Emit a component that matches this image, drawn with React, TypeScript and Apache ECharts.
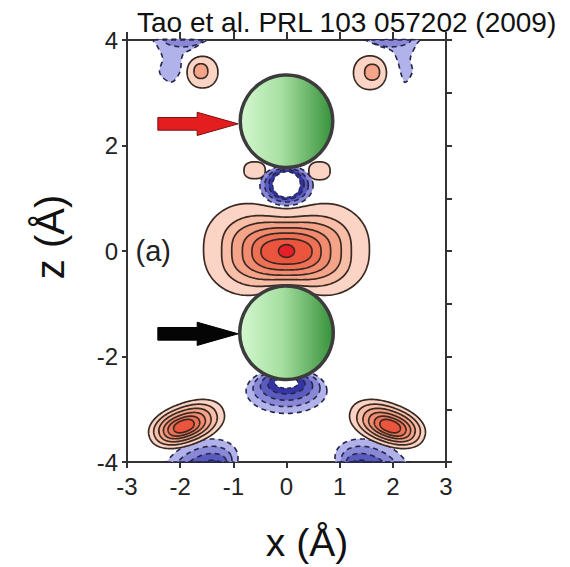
import React, { useEffect, useRef } from "react";
import * as echarts from "echarts";

// ---------- axes ----------
const xRange = [-3, 3];
const zRange = [-4, 4];
const titleText = "Tao et al. PRL 103 057202 (2009)";
const xTitle = "x (Å)";
const zTitle = "z (Å)";
const panelLabel = "(a)";

// ---------- contour rings ----------
// [xCenter, zCenter, halfWidth, halfHeight, tiltDeg, squareness, pinch, level]
// level > 0 : positive (red, solid), level < 0 : negative (blue, dashed), 0 : empty hole
const centralLobe = [
  [0, 0.03, 1.56, 1.02, 0, 2.4, 0.24, 1],
  [0, 0.0, 1.22, 0.73, 0, 2.8, 0.12, 2],
  [0, 0.0, 1.03, 0.57, 0, 2.8, 0.05, 3],
  [0, -0.01, 0.83, 0.45, 0, 2.7, 0, 4],
  [0, -0.01, 0.65, 0.35, 0, 2.5, 0, 5],
  [0, -0.01, 0.48, 0.24, 0, 2.3, 0, 6],
  [0, 0.0, 0.15, 0.12, 0, 2.0, 0, 7],
];
const upperSideLobes = [
  [-0.6, 1.53, 0.2, 0.16, 0, 2.4, 0, 1],
  [0.62, 1.52, 0.2, 0.17, 0, 2.4, 0, 1],
];
const topLobes = [
  [-1.58, 3.39, 0.29, 0.3, 0, 2.1, 0, 1],
  [-1.61, 3.41, 0.13, 0.14, 0, 2.2, 0, 3],
  [1.57, 3.38, 0.31, 0.32, 0, 2.1, 0, 1],
  [1.61, 3.39, 0.14, 0.15, 0, 2.2, 0, 3],
];
const bottomLobes = [
  [-1.88, -3.28, 0.74, 0.4, 20, 2.2, 0, 1],
  [-1.9, -3.29, 0.62, 0.33, 20, 2.2, 0, 2],
  [-1.91, -3.3, 0.51, 0.27, 20, 2.2, 0, 3],
  [-1.92, -3.31, 0.41, 0.21, 20, 2.2, 0, 4],
  [-1.93, -3.32, 0.31, 0.16, 20, 2.2, 0, 5],
  [-1.93, -3.32, 0.2, 0.11, 20, 2.2, 0, 6],
  [1.9, -3.28, 0.74, 0.4, -20, 2.2, 0, 1],
  [1.92, -3.29, 0.62, 0.33, -20, 2.2, 0, 2],
  [1.93, -3.3, 0.51, 0.27, -20, 2.2, 0, 3],
  [1.94, -3.31, 0.41, 0.21, -20, 2.2, 0, 4],
  [1.95, -3.32, 0.31, 0.16, -20, 2.2, 0, 5],
  [1.95, -3.32, 0.2, 0.11, -20, 2.2, 0, 6],
];
const upperRing = [
  [0, 1.24, 0.5, 0.38, 0, 2, 0, -2],
  [0, 1.25, 0.41, 0.32, 0, 2, 0, -3],
  [0, 1.26, 0.33, 0.28, 0, 2, 0, -4],
  [0, 1.26, 0.26, 0.24, 0, 2, 0, 0],
];
const lowerBowl = [
  [0, -2.65, 0.76, 0.43, 0, 2, 0, -1],
  [0, -2.6, 0.63, 0.35, 0, 2, 0, -2],
  [0, -2.56, 0.49, 0.27, 0, 2, 0, -3],
  [0, -2.53, 0.35, 0.18, 0, 2, 0, -4],
  [0, -2.5, 0.22, 0.1, 0, 2, 0, 0],
];
const bottomBlue = [
  [-1.62, -4.08, 0.74, 0.47, 22, 2, 0, -1],
  [-1.58, -4.1, 0.58, 0.36, 22, 2, 0, -2],
  [-1.54, -4.13, 0.44, 0.26, 22, 2, 0, -3],
  [-1.5, -4.16, 0.31, 0.17, 22, 2, 0, -4],
  [1.62, -4.08, 0.74, 0.47, -22, 2, 0, -1],
  [1.58, -4.1, 0.58, 0.36, -22, 2, 0, -2],
  [1.54, -4.13, 0.44, 0.26, -22, 2, 0, -3],
  [1.5, -4.16, 0.31, 0.17, -22, 2, 0, -4],
];
const topBlueCaps = [
  [-1.95, 4.03, 0.38, 0.16, 0, 2, 0, -2],
  [1.97, 4.03, 0.38, 0.16, 0, 2, 0, -2],
];
// negative "funnels" hanging from the top edge: outline points [x, z]
const topFunnelLeft = [
  [-2.5, 4.05], [-1.5, 4.05], [-1.56, 3.96], [-1.75, 3.84], [-1.95, 3.72], [-2.0, 3.41],
  [-2.1, 3.24], [-2.19, 3.2], [-2.35, 3.31], [-2.39, 3.42], [-2.33, 3.66], [-2.44, 3.9],
];
const topFunnelRight = [
  [1.48, 4.05], [2.5, 4.05], [2.46, 3.94], [2.33, 3.66], [2.37, 3.41], [2.28, 3.23],
  [2.22, 3.2], [2.16, 3.34], [2.09, 3.6], [1.99, 3.79], [1.76, 3.88], [1.5, 3.99],
];

// atoms: [x, z, radius]
const atoms = [
  [0, 2.46, 0.87],
  [0, -1.55, 0.88],
];
// arrows: [tailX, headBaseX, tipX, z, shaftHalf, headHalf]
const redArrow = [-2.42, -1.68, -0.91, 2.41, 0.12, 0.22];
const blackArrow = [-2.42, -1.68, -0.91, -1.57, 0.12, 0.22];
const labelPos = [-2.84, 0];

const positiveFills = ["#fbd4c5", "#f8bea8", "#f5a48a", "#f28b6f", "#ef7155", "#ec553d", "#e61e28"];
const negativeFills = ["#b2b2ea", "#8888d6", "#5b5bbe", "#3434a2"];

const FONT = '"Liberation Sans", Arial, Helvetica, sans-serif';

const clamp = (v: number, lo: number, hi: number) => Math.max(lo, Math.min(hi, v));

function ringPoints(row: number[]) {
  const [cx, cz, a, b, tilt, n, pinch] = row;
  const th = (tilt * Math.PI) / 180;
  const pts: number[][] = [];
  const N = 180;
  for (let i = 0; i < N; i++) {
    const t = (i / N) * Math.PI * 2;
    const c = Math.cos(t);
    const s = Math.sin(t);
    const u = Math.sign(c) * Math.pow(Math.abs(c), 2 / n);
    const v = Math.sign(s) * Math.pow(Math.abs(s), 2 / n);
    const x = a * u;
    const z = b * v * (1 - pinch * Math.exp(-Math.pow(u / 0.45, 2)));
    const X = cx + x * Math.cos(th) - z * Math.sin(th);
    const Z = cz + x * Math.sin(th) + z * Math.cos(th);
    pts.push([clamp(X, xRange[0], xRange[1]), clamp(Z, zRange[0], zRange[1])]);
  }
  return pts;
}

function levelStyle(level: number) {
  if (level > 0) {
    return { fill: positiveFills[level - 1], stroke: "#3a2a22", lineWidth: 1.7 };
  }
  if (level < 0) {
    return { fill: negativeFills[-level - 1], stroke: "#26264a", lineWidth: 1.6, lineDash: [5, 4] };
  }
  return { fill: "#ffffff", stroke: "#26264a", lineWidth: 1.4, lineDash: [4, 3] };
}

type Shape =
  | { kind: "ring"; row: number[] }
  | { kind: "poly"; pts: number[][]; level: number }
  | { kind: "atom"; row: number[] }
  | { kind: "arrow"; row: number[]; fill: string; stroke: string }
  | { kind: "label"; pos: number[]; text: string };

const shapes: Shape[] = [
  { kind: "poly", pts: topFunnelLeft, level: -1 },
  { kind: "poly", pts: topFunnelRight, level: -1 },
  ...topBlueCaps.map((row) => ({ kind: "ring", row } as Shape)),
  ...bottomBlue.map((row) => ({ kind: "ring", row } as Shape)),
  ...topLobes.map((row) => ({ kind: "ring", row } as Shape)),
  ...bottomLobes.map((row) => ({ kind: "ring", row } as Shape)),
  ...centralLobe.map((row) => ({ kind: "ring", row } as Shape)),
  ...upperSideLobes.map((row) => ({ kind: "ring", row } as Shape)),
  ...upperRing.map((row) => ({ kind: "ring", row } as Shape)),
  ...lowerBowl.map((row) => ({ kind: "ring", row } as Shape)),
  ...atoms.map((row) => ({ kind: "atom", row } as Shape)),
  { kind: "arrow", row: redArrow, fill: "#e41e1e", stroke: "#7a1010" },
  { kind: "arrow", row: blackArrow, fill: "#050505", stroke: "#000000" },
  { kind: "label", pos: labelPos, text: panelLabel },
];

export default function App() {
  const ref = useRef<HTMLDivElement>(null);
  useEffect(() => {
    document.body.style.margin = "0";
    if (!ref.current) return;
    const chart = echarts.init(ref.current, undefined, { renderer: "svg" });
    const axisLine = { show: true, onZero: false, lineStyle: { color: "#333", width: 2 } };
    const option: any = {
      animation: false,
      backgroundColor: "#ffffff",
      grid: { left: 127, right: 124, top: 40, bottom: 105, containLabel: false },
      xAxis: [
        {
          type: "value", position: "bottom", min: xRange[0], max: xRange[1], interval: 1,
          axisLine, axisTick: { show: true, length: 6, lineStyle: { color: "#333", width: 2 } },
          axisLabel: { fontSize: 24, color: "#222", margin: 12, fontFamily: FONT },
          splitLine: { show: false },
        },
        {
          type: "value", position: "top", min: xRange[0], max: xRange[1], interval: 1,
          axisLine, axisTick: { show: true, length: 8, lineStyle: { color: "#333", width: 2 } },
          axisLabel: { show: false }, splitLine: { show: false },
        },
      ],
      yAxis: [
        {
          type: "value", position: "left", min: zRange[0], max: zRange[1], interval: 2,
          axisLine, axisTick: { show: true, length: 5, lineStyle: { color: "#333", width: 2 } },
          axisLabel: { fontSize: 24, color: "#222", margin: 9, fontFamily: FONT },
          splitLine: { show: false },
        },
        {
          type: "value", position: "right", min: zRange[0], max: zRange[1], interval: 1,
          axisLine, axisTick: { show: true, length: 6, lineStyle: { color: "#333", width: 2 } },
          axisLabel: { show: false }, splitLine: { show: false },
        },
      ],
      graphic: [
        {
          type: "text", x: 137, y: 22,
          style: { text: titleText, font: `28px ${FONT}`, fill: "#111", align: "left", verticalAlign: "middle" },
        },
        {
          type: "text", x: 307, y: 542,
          style: { text: xTitle, font: `39px ${FONT}`, fill: "#111", align: "center", verticalAlign: "middle" },
        },
        {
          type: "text", x: 50, y: 237, rotation: Math.PI / 2,
          style: { text: zTitle, font: `40px ${FONT}`, fill: "#111", align: "center", verticalAlign: "middle" },
        },
      ],
      series: [
        {
          type: "custom",
          coordinateSystem: "cartesian2d",
          xAxisIndex: 0,
          yAxisIndex: 0,
          silent: true,
          clip: false,
          data: shapes.map((_, i) => [0, 0, i]),
          renderItem: (params: any, api: any) => {
            const s = shapes[params.dataIndex];
            if (s.kind === "ring") {
              const pts = ringPoints(s.row).map((p) => api.coord(p));
              return { type: "polygon", shape: { points: pts }, style: levelStyle(s.row[7]) };
            }
            if (s.kind === "poly") {
              const pts = s.pts.map((p) => api.coord([clamp(p[0], xRange[0], xRange[1]), clamp(p[1], zRange[0], zRange[1])]));
              return { type: "polygon", shape: { points: pts, smooth: 0.3 }, style: levelStyle(s.level) };
            }
            if (s.kind === "atom") {
              const c = api.coord([s.row[0], s.row[1]]);
              const r = api.size([s.row[2], 0])[0];
              return {
                type: "circle",
                shape: { cx: c[0], cy: c[1], r },
                style: {
                  fill: new echarts.graphic.LinearGradient(0, 0, 1, 0, [
                    { offset: 0, color: "#d4f8d0" },
                    { offset: 0.45, color: "#a6dfa0" },
                    { offset: 1, color: "#36913a" },
                  ]),
                  stroke: "#3c3c3c",
                  lineWidth: 3.5,
                },
              };
            }
            if (s.kind === "arrow") {
              const [x0, xb, x1, zc, hs, hh] = s.row;
              const pts = [
                [x0, zc + hs], [xb, zc + hs], [xb, zc + hh], [x1, zc],
                [xb, zc - hh], [xb, zc - hs], [x0, zc - hs],
              ].map((p) => api.coord(p));
              return { type: "polygon", shape: { points: pts }, style: { fill: s.fill, stroke: s.stroke, lineWidth: 1 } };
            }
            const c = api.coord(s.pos);
            return {
              type: "text",
              x: c[0],
              y: c[1],
              style: { text: s.text, font: `29px ${FONT}`, fill: "#222", align: "left", verticalAlign: "middle" },
            };
          },
        },
      ],
    };
    chart.setOption(option);
    return () => chart.dispose();
  }, []);
  return <div ref={ref} style={{ width: 570, height: 567 }} />;
}
